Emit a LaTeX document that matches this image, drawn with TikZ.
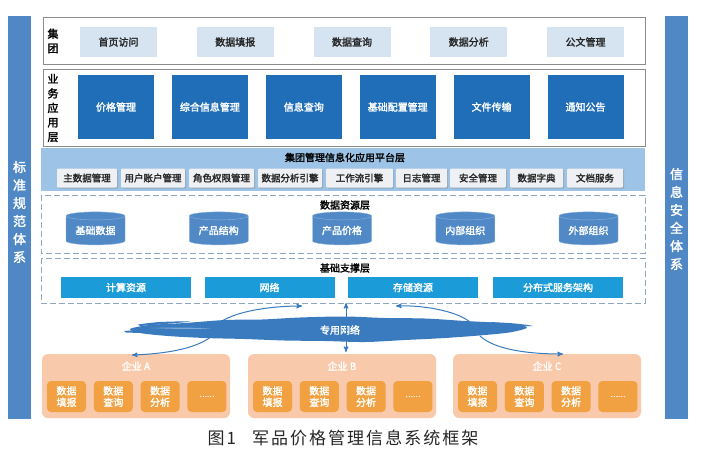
\documentclass[tikz,border=0pt]{standalone}
\usepackage{fontspec}
\setmainfont{Noto Sans CJK SC}[AutoFakeBold=2]
\newfontfamily\capfont{Noto Sans CJK SC}[LetterSpace=12]
\usepackage{tikz}
\usetikzlibrary{positioning}
\usetikzlibrary{shapes.geometric}
\usetikzlibrary{shadows}
\usetikzlibrary{arrows}
\definecolor{sidefill}{HTML}{5088C5}
\definecolor{topfill}{HTML}{D6E4F2}
\definecolor{appfill}{HTML}{1F6EB7}
\definecolor{platfill}{HTML}{9DC3E6}
\definecolor{btnfill}{HTML}{EEF0F3}
\definecolor{cylfill}{HTML}{5089C6}
\definecolor{supfill}{HTML}{1B9BD7}
\definecolor{cloudfill}{HTML}{3A7BBF}
\definecolor{entfill}{HTML}{F9C9AB}
\definecolor{itemfill}{HTML}{F1A142}
\definecolor{dashcol}{HTML}{8FA6C0}
\definecolor{framecol}{HTML}{8C8C8C}
\tikzset{
  sidebar/.style={fill=sidefill, minimum width=23pt, minimum height=403pt, inner sep=0pt},
  sidetext/.style={align=center, text=white, font=\fontsize{13}{18}\selectfont\bfseries},
  sidelabel/.style={align=center, text=black, font=\fontsize{11}{14.5}\selectfont\bfseries},
  frame/.style={draw=framecol, line width=0.6pt},
  dashframe/.style={draw=dashcol, dash pattern=on 6pt off 3pt, line width=0.8pt},
  topbox/.style={fill=topfill, minimum width=77pt, minimum height=30pt, inner sep=0pt, text=black!85, font=\fontsize{10}{12}\selectfont\bfseries},
  appbox/.style={fill=appfill, minimum width=76pt, minimum height=64pt, inner sep=0pt, text=white, font=\fontsize{10}{12}\selectfont\bfseries},
  layertitle/.style={text=black, font=\fontsize{10}{12}\selectfont\bfseries},
  platbtn/.style={fill=btnfill, minimum height=19pt, inner sep=0pt, rounded corners=1pt, text=black!85, font=\fontsize{9.5}{11}\selectfont\bfseries, drop shadow={opacity=0.45, shadow xshift=1pt, shadow yshift=-1pt}},
  dbcyl/.style={cylinder, shape border rotate=90, aspect=0.2, draw=white!35!cylfill, fill=cylfill, minimum width=59pt, minimum height=33pt, inner sep=0pt, text=white, font=\fontsize{10}{12}\selectfont\bfseries},
  supbox/.style={fill=supfill, minimum width=130pt, minimum height=21pt, inner sep=0pt, text=white, font=\fontsize{10}{12}\selectfont\bfseries},
  entbox/.style={fill=entfill, rounded corners=6pt, minimum width=188pt, minimum height=64pt},
  enttitle/.style={text=white, font=\fontsize{10}{12}\selectfont\bfseries},
  entitem/.style={fill=itemfill, rounded corners=4pt, minimum width=39pt, minimum height=31pt, inner sep=0pt, align=center, text=white, font=\fontsize{10}{11.5}\selectfont\bfseries},
  link/.style={->, >=stealth', draw=cloudfill, line width=1pt}
}
\begin{document}
\begin{tikzpicture}[x=1pt,y=-1pt]
\useasboundingbox (0,0) rectangle (711,461);
% side systems
\node[sidebar] (std) at (19.5,217.5) {};
\node[sidetext] (stdtext) at (19.5,212) {标\\准\\规\\范\\体\\系};
\node[sidebar] (sec) at (676.5,217.5) {};
\node[sidetext] (sectext) at (676.5,219) {信\\息\\安\\全\\体\\系};
% group layer
\draw[frame] (43,17) rectangle (645,64);
\node[sidelabel] (grp) at (53,41) {集\\团};
\foreach \t [count=\i] in {首页访问,数据填报,数据查询,数据分析,公文管理}
  \node[topbox] (grp\i) at ({118.5+116.75*(\i-1)},42) {\t};
% application layer
\draw[frame] (43,69) rectangle (645,146);
\node[sidelabel] (app) at (53,108) {业\\务\\应\\用\\层};
\foreach \t [count=\i] in {价格管理,综合信息管理,信息查询,基础配置管理,文件传输,通知公告}
  \node[appbox] (app\i) at ({116+93.9*(\i-1)},107) {\t};
% platform layer
\fill[platfill] (41,148) rectangle (645,191);
\node[layertitle] (plat) at (345,157.5) {集团管理信息化应用平台层};
\foreach \c/\w/\t [count=\i] in {87/60/主数据管理,153/64/用户账户管理,221.5/65/角色权限管理,290/64/数据分析引擎,359.5/67/工作流引擎,421.5/51/日志管理,478/56/安全管理,536.5/53/数据字典,595/56/文档服务}
  \node[platbtn, minimum width=\w pt] (btn\i) at (\c,178) {\t};
% data layer
\draw[dashframe] (41,195) rectangle (645,253);
\node[layertitle] (data) at (345,205) {数据资源层};
\foreach \t [count=\i] in {基础数据,产品结构,产品价格,内部组织,外部组织}
  \node[dbcyl] (db\i) at ({95.5+123.25*(\i-1)},230.5) {\t};
% support layer
\draw[dashframe] (41,258) rectangle (645,303);
\node[layertitle] (base) at (345,268) {基础支撑层};
\foreach \c/\t [count=\i] in {126/计算资源,269.5/网络,413/存储资源,558/分布式服务架构}
  \node[supbox] (sup\i) at (\c,287.5) {\t};
% private network
\fill[cloudfill] plot[smooth cycle, tension=0.55] coordinates {(130,329) (150,325) (185,323) (225,320) (262,319.5) (300,317.5) (345,316.5) (385,318) (425,318.5) (465,321) (500,323) (527,327) (512,332) (485,335) (445,338) (405,340) (365,342) (325,341) (285,340.5) (245,339) (205,338) (168,336) (140,333)};
\fill[cloudfill] plot[smooth, tension=0.6] coordinates {(124,331) (145,330) (170,331.5) (150,333) (126,332.5)};
\fill[cloudfill] plot[smooth, tension=0.6] coordinates {(138,324.5) (160,322) (190,321.5) (165,324) (140,326)};
\fill[cloudfill] plot[smooth, tension=0.6] coordinates {(490,322) (515,323.5) (533,326) (515,325.5) (492,324)};
\fill[white, opacity=0.35] plot[smooth, tension=0.6] coordinates {(150,328) (180,327.5) (210,328.5) (180,329)};
\node[enttitle] (net) at (340,330) {专用网络};
% enterprises
\foreach \x/\n in {42/A,248/B,453/C} {
  \node[entbox] (ent\n) at ({\x+94},386) {};
  \node[enttitle] (ent\n t) at ({\x+94},366) {企业 \n};
  \foreach \t [count=\j] in {{数据\\填报},{数据\\查询},{数据\\分析},{\fontsize{7}{8}\selectfont ……}}
    \node[entitem] (ent\n\j) at ({\x+24.5+46.8*(\j-1)},396.5) {\t};
}
% links
\coordinate (n1) at (222,321);
\coordinate (n2) at (470,322);
\coordinate (n3) at (212,336);
\coordinate (n4) at (480,336);
\coordinate (n5) at (346,303);
\coordinate (n6) at (346,352);
\coordinate (t1) at (302,306);
\coordinate (t2) at (396,306);
\coordinate (t3) at (132,355);
\coordinate (t4) at (563,354);
\draw[link] (n1) .. controls (240,310) and (275,306) .. (t1);
\draw[link] (n2) .. controls (455,310) and (420,305) .. (t2);
\draw[link] (n3) .. controls (195,350) and (160,354) .. (t3);
\draw[link] (n4) .. controls (495,350) and (530,354) .. (t4);
\draw[link, <->] (n5) -- (n6);
% caption
\node[anchor=west, text=black!85, font=\capfont\fontsize{17}{20}\selectfont] (cap) at (204,438) {图1\hspace{16pt}军品价格管理信息系统框架};
\end{tikzpicture}
\end{document}
